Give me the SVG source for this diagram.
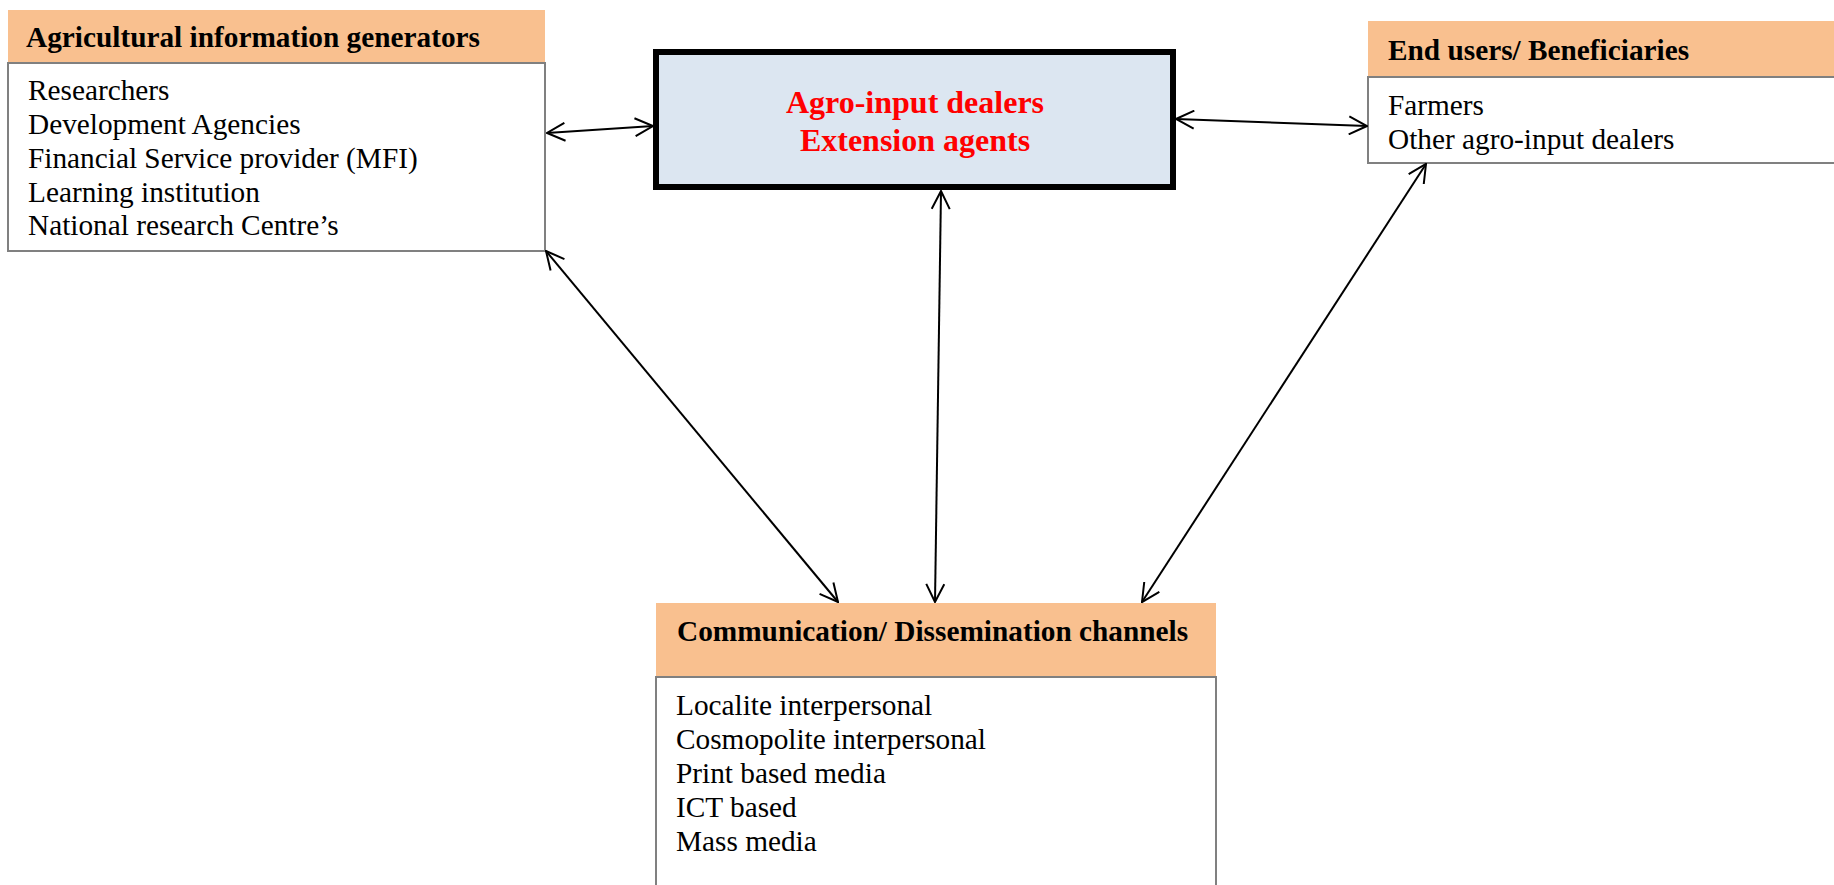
<svg xmlns="http://www.w3.org/2000/svg" width="1834" height="885" viewBox="0 0 1834 885">
<defs>
<style>
.hdr{fill:#f9c08f;stroke:none}
.body{fill:#ffffff;stroke:#808080;stroke-width:2}
.ht{font-family:"Liberation Serif","Times New Roman",serif;font-weight:bold;font-size:29.3px;fill:#000}
.bt{font-family:"Liberation Serif","Times New Roman",serif;font-size:29.3px;fill:#000}
.ct{font-family:"Liberation Serif","Times New Roman",serif;font-weight:bold;font-size:32px;fill:#ff0000}
.con{stroke:#000;stroke-width:2;fill:none;marker-start:url(#arr);marker-end:url(#arr)}
</style>
<marker id="arr" viewBox="0 0 20 20" refX="19" refY="10" markerWidth="20" markerHeight="20" markerUnits="userSpaceOnUse" orient="auto-start-reverse">
<path d="M1,1 L19,10 L1,19" fill="none" stroke="#000" stroke-width="2"/>
</marker>
</defs>
<rect width="1834" height="885" fill="#ffffff"/>
<g id="generators">
<rect class="hdr" x="8" y="10" width="537" height="53"/>
<rect class="body" x="8" y="63" width="537" height="188"/>
<text class="ht" x="26" y="47">Agricultural information generators</text>
<text class="bt" x="28" y="100">Researchers</text>
<text class="bt" x="28" y="134">Development Agencies</text>
<text class="bt" x="28" y="168">Financial Service provider (MFI)</text>
<text class="bt" x="28" y="202">Learning institution</text>
<text class="bt" x="28" y="235">National research Centre’s</text>
</g>
<g id="dealers">
<rect x="656" y="52" width="517" height="135" fill="#dce6f1" stroke="#000" stroke-width="6"/>
<text class="ct" x="915" y="113" text-anchor="middle">Agro-input dealers</text>
<text class="ct" x="915" y="151" text-anchor="middle">Extension agents</text>
</g>
<g id="endusers">
<rect class="hdr" x="1368" y="21" width="470" height="56"/>
<rect class="body" x="1368" y="77" width="470" height="86"/>
<text class="ht" x="1388" y="60">End users/ Beneficiaries</text>
<text class="bt" x="1388" y="115">Farmers</text>
<text class="bt" x="1388" y="149">Other agro-input dealers</text>
</g>
<g id="channels">
<rect class="hdr" x="656" y="603" width="560" height="74"/>
<rect class="body" x="656" y="677" width="560" height="215"/>
<text class="ht" x="677" y="641">Communication/ Dissemination channels</text>
<text class="bt" x="676" y="715">Localite interpersonal</text>
<text class="bt" x="676" y="749">Cosmopolite interpersonal</text>
<text class="bt" x="676" y="783">Print based media</text>
<text class="bt" x="676" y="817">ICT based</text>
<text class="bt" x="676" y="851">Mass media</text>
</g>
<g id="connectors">
<line class="con" x1="547" y1="133" x2="653" y2="126"/>
<line class="con" x1="1176" y1="119" x2="1367" y2="126"/>
<line class="con" x1="546" y1="251" x2="838" y2="602"/>
<line class="con" x1="941" y1="191" x2="935" y2="602"/>
<line class="con" x1="1426" y1="164" x2="1142" y2="602"/>
</g>
</svg>
